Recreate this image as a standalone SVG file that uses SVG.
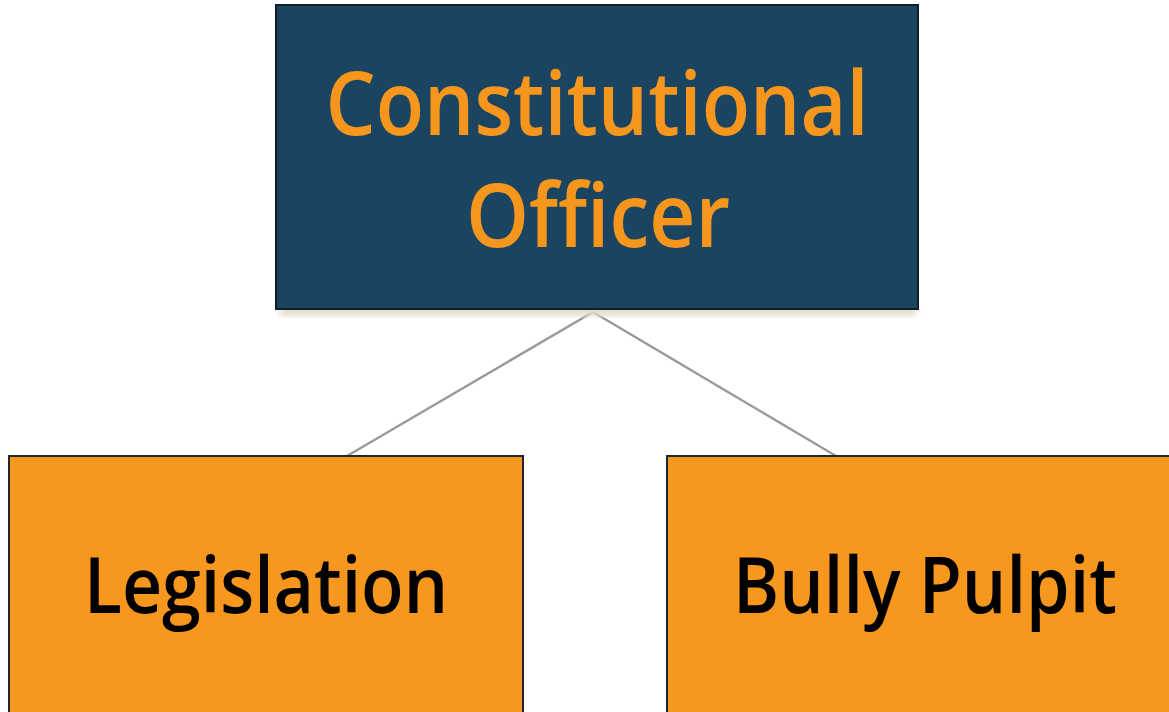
<svg xmlns="http://www.w3.org/2000/svg" width="1169" height="712" viewBox="0 0 1169 712">
  <defs>
    <filter id="soft" x="-5%" y="-5%" width="110%" height="120%">
      <feGaussianBlur stdDeviation="3"/>
    </filter>
    <style>
      .top { fill: #1a4460; stroke: #0f1f2a; stroke-width: 2; }
      .leaf { fill: #f7971e; stroke: #1a2630; stroke-width: 2; }
      .head { font-family: "Open Sans", "Liberation Sans", sans-serif; font-weight: 600; fill: #f7961d; font-size: 88px; text-anchor: middle; }
      .label { font-family: "Open Sans", "Liberation Sans", sans-serif; font-weight: 600; fill: #000; font-size: 77px; text-anchor: middle; }
      .link { stroke: #9a9a9a; stroke-width: 2.5; fill: none; }
    </style>
  </defs>
  <rect width="1169" height="712" fill="#ffffff"/>

  <!-- connectors from the officer to each tool -->
  <g id="connectors">
    <line class="link" x1="593" y1="312" x2="347" y2="456"/>
    <line class="link" x1="593" y1="312" x2="836" y2="456"/>
  </g>

  <!-- top node -->
  <g id="node-officer">
    <rect x="280" y="306" width="636" height="10" fill="#e6dccb" filter="url(#soft)"/>
    <rect class="top" x="276" y="5" width="642" height="304"/>
    <text class="head" x="597" y="135" textLength="543" lengthAdjust="spacingAndGlyphs">Constitutional</text>
    <text class="head" x="598" y="247" textLength="264" lengthAdjust="spacingAndGlyphs">Officer</text>
  </g>

  <!-- left child -->
  <g id="node-legislation">
    <rect class="leaf" x="9" y="456" width="514" height="270"/>
    <text class="label" x="266" y="613" textLength="364" lengthAdjust="spacingAndGlyphs">Legislation</text>
  </g>

  <!-- right child -->
  <g id="node-bully-pulpit">
    <rect class="leaf" x="667" y="456" width="520" height="270"/>
    <text class="label" x="925" y="613" textLength="384" lengthAdjust="spacingAndGlyphs">Bully Pulpit</text>
  </g>
</svg>
